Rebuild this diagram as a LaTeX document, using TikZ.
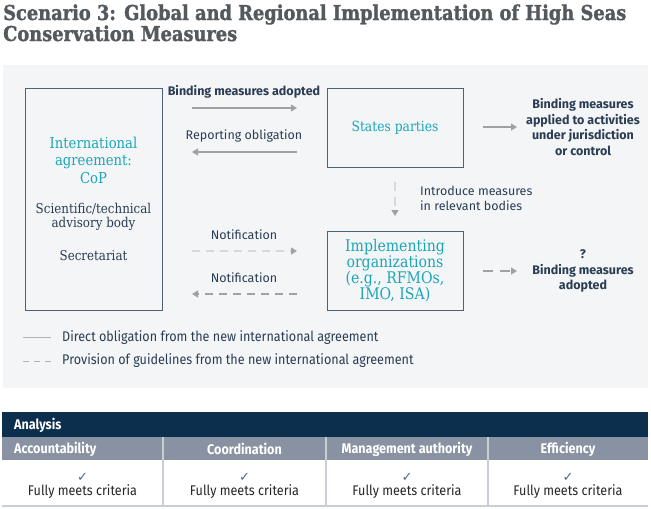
\documentclass[tikz,border=0pt]{standalone}
\usepackage{fontspec}
\setmainfont{Fira Sans}
\newfontfamily\slab{DejaVu Serif}[FakeStretch=0.88]
\newfontfamily\titlefont{DejaVu Serif}[UprightFont={* Bold}, FakeStretch=0.869, FakeBold=1.5]
\newfontfamily\cond{Fira Sans}[FakeStretch=0.9]
\newfontfamily\symb{DejaVu Sans}
\usetikzlibrary{arrows.meta}
\definecolor{panel}{HTML}{F3F5F7}
\definecolor{boxline}{HTML}{4D6276}
\definecolor{tealc}{HTML}{1AA6B7}
\definecolor{txt}{HTML}{2B3D52}
\definecolor{arr}{HTML}{9EA2A6}
\definecolor{arrlight}{HTML}{D6D9DC}
\definecolor{navy}{HTML}{0C2F4E}
\definecolor{rowgray}{HTML}{8892A3}
\definecolor{divider}{HTML}{C9CED6}
\definecolor{titlec}{HTML}{54595E}
\definecolor{checkc}{HTML}{4E6A8A}
\tikzset{
  box/.style={draw=boxline, line width=1.3pt, anchor=north west, inner sep=0pt},
  slabtitle/.style={text=tealc, font=\slab\fontsize{15}{17.5}\selectfont, align=center, inner sep=0pt},
  slabbody/.style={text=txt, font=\slab\fontsize{13.5}{14}\selectfont, align=center, inner sep=0pt},
  lbl/.style={text=txt, font=\fontsize{12.5}{15.5}\selectfont, align=center, inner sep=0pt},
  lblbold/.style={text=txt, font=\bfseries\fontsize{12.5}{15.5}\selectfont, align=center, inner sep=0pt},
  solidarrow/.style={draw=arr, line width=1.2pt, -{Triangle[length=6pt,width=7pt]}},
  lightdash/.style={draw=arrlight, line width=1.2pt, dash pattern=on 8pt off 6pt, -{Triangle[length=6pt,width=7pt,color=arr]}},
  darkdash/.style={draw=arr, line width=1.2pt, dash pattern=on 8pt off 6pt, -{Triangle[length=6pt,width=7pt]}},
  legtext/.style={text=txt, font=\cond\fontsize{14}{14}\selectfont, anchor=west, inner sep=0pt},
  hdr/.style={text=white, font=\cond\bfseries\fontsize{14}{14}\selectfont, inner sep=0pt},
  cell/.style={text=black!85, font=\cond\fontsize{14}{14}\selectfont, inner sep=0pt},
  chk/.style={text=checkc, font=\symb\fontsize{13}{13}\selectfont, inner sep=0pt},
  divline/.style={draw=divider, line width=2.5pt}
}
\begin{document}
\begin{tikzpicture}[x=1pt,y=-1pt]
\useasboundingbox (0,0) rectangle (651,509);
% title
\node[anchor=base west, inner sep=0pt, text=titlec, font=\titlefont\fontsize{20.5}{22}\selectfont] (t1) at (3,20) {Scenario 3: Global and Regional Implementation of High Seas};
\node[anchor=base west, inner sep=0pt, text=titlec, font=\titlefont\fontsize{20.5}{22}\selectfont] (t2) at (3,41) {Conservation Measures};
% panel
\fill[panel] (3,65) rectangle (648,388);
% boxes
\node[box, minimum width=137pt, minimum height=222pt] (cop) at (25,88) {};
\node[box, minimum width=136pt, minimum height=79pt] (sp) at (327,88) {};
\node[box, minimum width=136pt, minimum height=79pt] (io) at (327,231) {};
% box texts
\node[slabtitle] (copt) at (93.5,160) {International\\agreement:\\CoP};
\node[slabbody] (sci) at (93.5,217) {Scientific/technical\\advisory body};
\node[slabbody] (sec) at (93.5,256) {Secretariat};
\node[slabtitle, font=\slab\fontsize{14}{17}\selectfont] (spt) at (395,128) {States parties};
\node[slabtitle, font=\slab\fontsize{16}{16}\selectfont] (iot) at (395,271) {Implementing\\organizations\\(e.g., RFMOs,\\IMO, ISA)};
% arrow labels
\node[lblbold] (l1) at (244,92) {Binding measures adopted};
\node[lbl] (l2) at (244,136) {Reporting obligation};
\node[lbl] (l3) at (244,235) {Notification};
\node[lbl] (l4) at (244,278) {Notification};
\node[lblbold] (r1) at (583,127) {Binding measures\\applied to activities\\under jurisdiction\\or control};
\node[lblbold] (r2) at (583,271) {?\\Binding measures\\adopted};
\node[lbl, anchor=west, align=left] (intro) at (420,198.5) {Introduce measures\\in relevant bodies};
% arrow endpoints
\coordinate (a1s) at (192,108); \coordinate (a1e) at (297,108);
\coordinate (a2s) at (297,152); \coordinate (a2e) at (192,152);
\coordinate (a3s) at (192,251); \coordinate (a3e) at (297,251);
\coordinate (a4s) at (297,294); \coordinate (a4e) at (192,294);
\coordinate (a5s) at (483,127); \coordinate (a5e) at (517,127);
\coordinate (a6s) at (395,182); \coordinate (a6e) at (395,216);
\coordinate (a7s) at (483,271); \coordinate (a7e) at (517,271);
\draw[solidarrow] (a1s) -- (a1e);
\draw[solidarrow] (a2s) -- (a2e);
\draw[lightdash] (a3s) -- (a3e);
\draw[darkdash] (a4s) -- (a4e);
\draw[solidarrow] (a5s) -- (a5e);
\draw[lightdash, dash pattern=on 9pt off 6pt] (a6s) -- (a6e);
\draw[darkdash, dash pattern=on 10pt off 7pt] (a7s) -- (a7e);
% legend
\coordinate (g1s) at (23,337); \coordinate (g1e) at (51,337);
\coordinate (g2s) at (23,361); \coordinate (g2e) at (51,361);
\draw[draw=arr!80, line width=1pt] (g1s) -- (g1e);
\draw[draw=arr!80, line width=1pt, dash pattern=on 6pt off 5pt] (g2s) -- (g2e);
\node[legtext] (lg1) at (62,338) {Direct obligation from the new international agreement};
\node[legtext] (lg2) at (62,361) {Provision of guidelines from the new international agreement};
% table
\fill[navy] (2,412) rectangle (648,437);
\fill[rowgray] (2,437) rectangle (648,460);
\fill[white] (2,460) rectangle (648,505);
\draw[divline] (2,506) -- (648,506);
\draw[divline, line width=2pt] (163,437) -- (163,507);
\draw[divline, line width=2pt] (326,437) -- (326,507);
\draw[divline, line width=2pt] (488,437) -- (488,507);
\node[hdr, anchor=west] (an) at (14,425) {Analysis};
\node[hdr, anchor=west] (h1) at (14,449) {Accountability};
\node[hdr] (h2) at (244.5,449) {Coordination};
\node[hdr] (h3) at (407,449) {Management authority};
\node[hdr] (h4) at (568,449) {Efficiency};
\node[chk] (c1) at (82.5,477) {✓};
\node[chk] (c2) at (244.5,477) {✓};
\node[chk] (c3) at (407,477) {✓};
\node[chk] (c4) at (568,477) {✓};
\node[cell] (f1) at (82.5,492) {Fully meets criteria};
\node[cell] (f2) at (244.5,492) {Fully meets criteria};
\node[cell] (f3) at (407,492) {Fully meets criteria};
\node[cell] (f4) at (568,492) {Fully meets criteria};
\end{tikzpicture}
\end{document}
